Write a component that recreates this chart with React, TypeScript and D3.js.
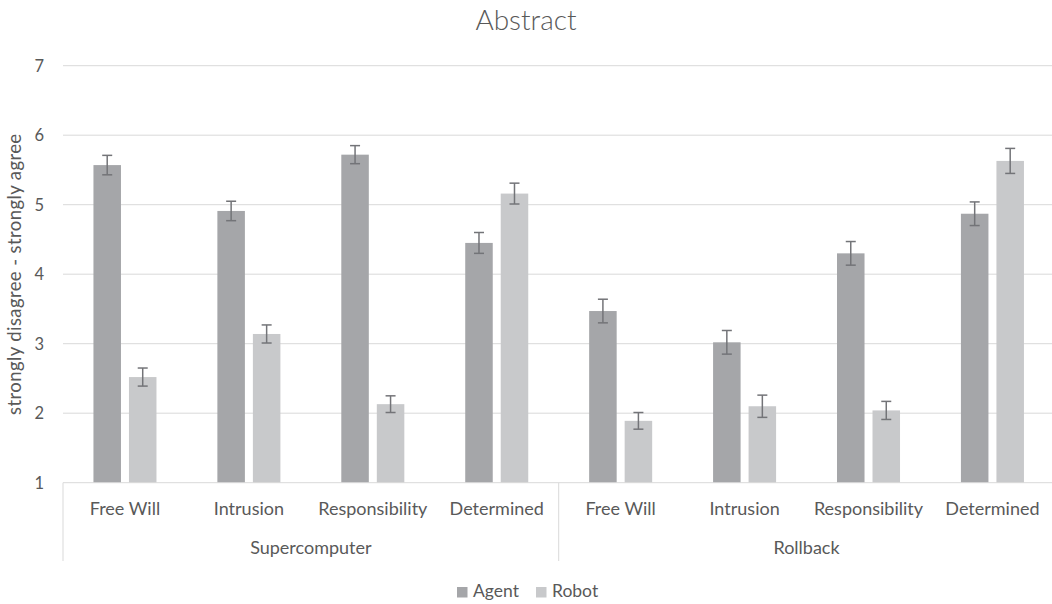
import React, { useEffect, useRef } from "react"
import * as d3 from "d3"

const categories = ["Free Will", "Intrusion", "Responsibility", "Determined"]
const groups = ["Supercomputer", "Rollback"]
const series = ["Agent", "Robot"]
const agentMeans = [5.57, 4.91, 5.72, 4.45, 3.47, 3.02, 4.30, 4.87]
const robotMeans = [2.52, 3.14, 2.13, 5.16, 1.89, 2.10, 2.04, 5.63]
const agentErr = [0.14, 0.14, 0.13, 0.15, 0.17, 0.17, 0.17, 0.17]
const robotErr = [0.13, 0.13, 0.12, 0.15, 0.12, 0.16, 0.13, 0.18]
const yTicks = [1, 2, 3, 4, 5, 6, 7]

const colors = ["#a5a6a9", "#c8c9cb"]
const textColor = "#595959"
const gridColor = "#d9d9d9"
const font = "Lato, 'Open Sans', sans-serif"

const width = 1052
const height = 604

export default function App() {
    const svgRef = useRef(null)

    useEffect(() => {
        if (!svgRef.current) return
        document.body.style.margin = "0"
        const svg = d3.select(svgRef.current)
        svg.selectAll("*").remove()

        const left = 63, right = 1054.4, top = 65.7, bottom = 482.7

        // one slot per (group, category)
        const slots = groups.flatMap(g => categories.map(c => `${g}|${c}`))
        const rows = slots.map((key, i) => ({
            key,
            group: key.split("|")[0],
            cat: key.split("|")[1],
            values: [
                { s: series[0], v: agentMeans[i], e: agentErr[i] },
                { s: series[1], v: robotMeans[i], e: robotErr[i] },
            ],
        }))

        const x0 = d3.scaleBand().domain(slots).range([left, right])
        const step = x0.bandwidth()
        const x1 = d3.scaleBand().domain(series)
            .range([30.45, step - 30.45])
            .paddingInner(0.225)
        const y = d3.scaleLinear().domain([1, 7]).range([bottom, top])

        // title
        svg.append("text")
            .attr("x", 526).attr("y", 30)
            .attr("text-anchor", "middle")
            .attr("font-family", font).attr("font-size", 28)
            .attr("font-weight", 300)
            .attr("fill", textColor)
            .text("Abstract")

        // gridlines
        svg.append("g").selectAll("line")
            .data(yTicks.slice(1))
            .join("line")
            .attr("x1", left).attr("x2", right)
            .attr("y1", d => y(d)).attr("y2", d => y(d))
            .attr("stroke", gridColor).attr("stroke-width", 1)

        // y tick labels
        svg.append("g").selectAll("text")
            .data(yTicks)
            .join("text")
            .attr("x", 44).attr("y", d => y(d) + 6)
            .attr("text-anchor", "end")
            .attr("font-family", font).attr("font-size", 16.5)
            .attr("fill", textColor)
            .text(d => d)

        // y axis title
        svg.append("text")
            .attr("transform", `translate(21, ${(top + bottom) / 2}) rotate(-90)`)
            .attr("text-anchor", "middle")
            .attr("font-family", font).attr("font-size", 18.5)
            .attr("letter-spacing", 0.4)
            .attr("fill", textColor)
            .text("strongly disagree - strongly agree")

        // bars + error bars
        const slotG = svg.append("g").selectAll("g")
            .data(rows)
            .join("g")
            .attr("transform", d => `translate(${x0(d.key)},0)`)

        slotG.selectAll("rect")
            .data(d => d.values)
            .join("rect")
            .attr("x", d => x1(d.s))
            .attr("width", x1.bandwidth())
            .attr("y", d => y(d.v))
            .attr("height", d => y(1) - y(d.v))
            .attr("fill", (d, i) => colors[i])

        const err = slotG.selectAll("g.err")
            .data(d => d.values)
            .join("g")
            .attr("class", "err")
            .attr("stroke", "#737478")
            .attr("stroke-width", 1.5)
        const cx = d => x1(d.s) + x1.bandwidth() / 2
        err.append("line")
            .attr("x1", cx).attr("x2", cx)
            .attr("y1", d => y(d.v + d.e)).attr("y2", d => y(d.v - d.e))
        err.append("line")
            .attr("x1", d => cx(d) - 5).attr("x2", d => cx(d) + 5)
            .attr("y1", d => y(d.v + d.e)).attr("y2", d => y(d.v + d.e))
        err.append("line")
            .attr("x1", d => cx(d) - 5).attr("x2", d => cx(d) + 5)
            .attr("y1", d => y(d.v - d.e)).attr("y2", d => y(d.v - d.e))

        // category axis
        svg.append("line")
            .attr("x1", left).attr("x2", right)
            .attr("y1", bottom).attr("y2", bottom)
            .attr("stroke", gridColor)

        const groupEdges = groups.map(g => x0(`${g}|${categories[0]}`))
        groupEdges.push(right)
        svg.append("g").selectAll("line")
            .data(groupEdges)
            .join("line")
            .attr("x1", d => d).attr("x2", d => d)
            .attr("y1", bottom).attr("y2", 561)
            .attr("stroke", gridColor)

        svg.append("g").selectAll("text")
            .data(rows)
            .join("text")
            .attr("x", d => x0(d.key) + step / 2)
            .attr("y", 515)
            .attr("text-anchor", "middle")
            .attr("font-family", font).attr("font-size", 18)
            .attr("fill", textColor)
            .text(d => d.cat)

        svg.append("g").selectAll("text")
            .data(groups)
            .join("text")
            .attr("x", (d, i) => (groupEdges[i] + groupEdges[i + 1]) / 2)
            .attr("y", 554)
            .attr("text-anchor", "middle")
            .attr("font-family", font).attr("font-size", 18)
            .attr("fill", textColor)
            .text(d => d)

        // legend
        const legendX = [457, 536]
        const leg = svg.append("g").selectAll("g")
            .data(series)
            .join("g")
            .attr("transform", (d, i) => `translate(${legendX[i]}, 587)`)
        leg.append("rect")
            .attr("width", 10.5).attr("height", 10.5)
            .attr("fill", (d, i) => colors[i])
        leg.append("text")
            .attr("x", 16).attr("y", 10)
            .attr("font-family", font).attr("font-size", 17.5)
            .attr("fill", textColor)
            .text(d => d)
    }, [])

    return (
        <svg ref={svgRef} width={width} height={height} style={{ display: "block", background: "#fff" }} />
    )
}
